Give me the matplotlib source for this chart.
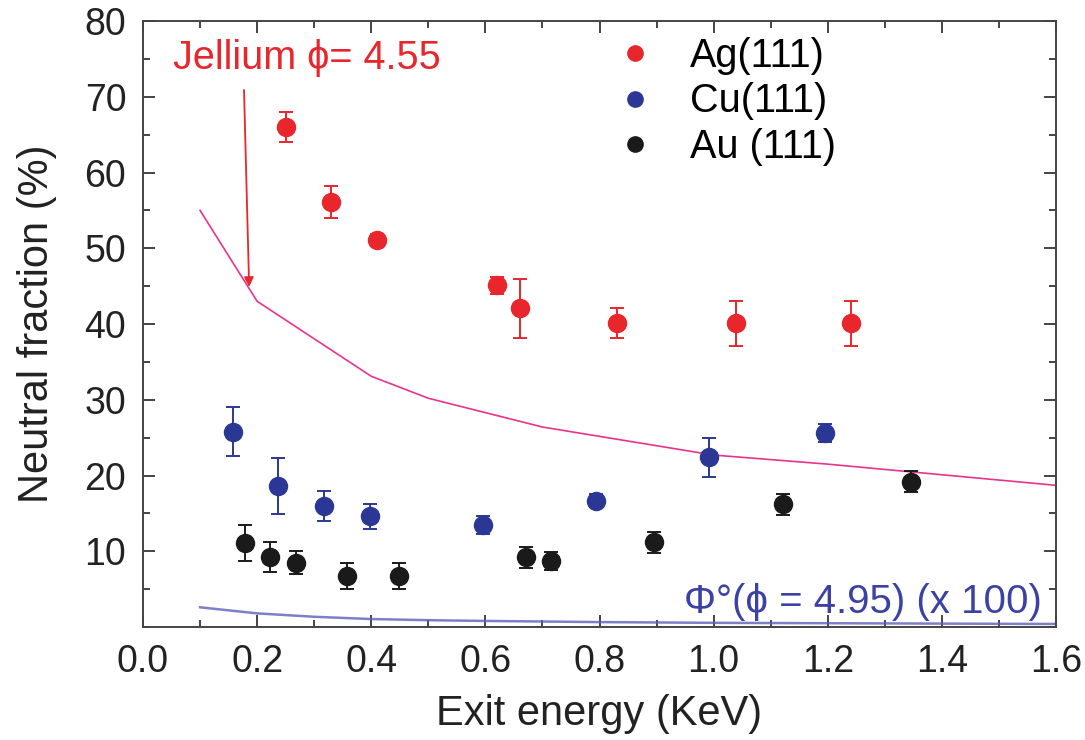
import matplotlib
matplotlib.use("Agg")
import matplotlib.pyplot as plt
from matplotlib import font_manager
from matplotlib.lines import Line2D
from matplotlib.ticker import MultipleLocator

# --------------------------------------------------------------------
# Neutral fraction vs exit energy, three (111) surfaces
ag_x = [0.25, 0.33, 0.41, 0.62, 0.66, 0.83, 1.04, 1.24]
ag_y = [66.0, 56.1, 51.1, 45.1, 42.1, 40.1, 40.1, 40.1]
ag_err = [2.0, 2.1, 0.8, 1.1, 3.9, 2.0, 3.0, 3.0]

cu_x = [0.157, 0.236, 0.317, 0.397, 0.596, 0.794, 0.991, 1.196]
cu_y = [25.8, 18.6, 16.0, 14.6, 13.5, 16.7, 22.4, 25.6]
cu_err = [3.2, 3.7, 2.0, 1.7, 1.2, 0.8, 2.6, 1.2]

au_x = [0.178, 0.222, 0.268, 0.358, 0.448, 0.672, 0.715, 0.896, 1.122, 1.345]
au_y = [11.1, 9.2, 8.5, 6.7, 6.7, 9.2, 8.7, 11.2, 16.2, 19.2]
au_err = [2.4, 2.0, 1.5, 1.7, 1.7, 1.4, 1.2, 1.4, 1.4, 1.4]

# jellium model, phi = 4.55
jel_x = [0.1, 0.2, 0.4, 0.5, 0.7, 1.0, 1.2, 1.4, 1.6]
jel_y = [55.0, 43.0, 33.1, 30.2, 26.4, 22.7, 21.5, 20.1, 18.7]

# Phi0 curve, phi = 4.95 (scaled x100)
phi_x = [0.1, 0.2, 0.3, 0.4, 0.5, 0.6, 0.8, 1.0, 1.2, 1.4, 1.6]
phi_y = [2.6, 1.8, 1.35, 1.05, 0.9, 0.8, 0.65, 0.55, 0.5, 0.45, 0.4]

legend_labels = ["Ag(111)", "Cu(111)", "Au (111)"]

RED = "#e8262c"
BLUE = "#2b3794"
BLACK = "#1a1a1a"
PINK = "#e8348c"
LAVENDER = "#5c60b8"


def pick_font(*names):
    have = {f.name for f in font_manager.fontManager.ttflist}
    for n in names:
        if n in have:
            return n
    return "DejaVu Sans"


SANS = pick_font("Liberation Sans", "Arial", "DejaVu Sans")
plt.rcParams["font.family"] = SANS

fig = plt.figure(figsize=(10.85, 7.4), dpi=100)
ax = fig.add_axes([0.1318, 0.1527, 0.8415, 0.8189])

# model curves
ax.plot(jel_x, jel_y, color=PINK, lw=1.2, zorder=2)
ax.plot(phi_x, phi_y, color=LAVENDER, lw=1.8, alpha=0.8, zorder=2)

eb_kw = dict(fmt="o", ms=13, capsize=4.7, elinewidth=1.4, capthick=1.4, zorder=3)
ax.errorbar(ag_x, ag_y, yerr=ag_err, color=RED, ecolor=RED, **eb_kw)
ax.errorbar(cu_x, cu_y, yerr=cu_err, color=BLUE, ecolor=BLUE, **eb_kw)
ax.errorbar(au_x, au_y, yerr=au_err, color=BLACK, ecolor=BLACK, **eb_kw)

ax.set_xlim(0, 1.6)
ax.set_ylim(0, 80)
ax.xaxis.set_major_locator(MultipleLocator(0.2))
ax.xaxis.set_minor_locator(MultipleLocator(0.1))
ax.yaxis.set_minor_locator(MultipleLocator(5))
ax.set_yticks(range(10, 81, 10))
ax.set_xticks([i * 0.2 for i in range(9)])
ax.set_xticklabels([f"{i * 0.2:.1f}" for i in range(9)])
ax.tick_params(which="both", direction="in", top=True, right=True,
               color="#444444", width=1.4)
ax.tick_params(which="major", length=8.5, pad=12, labelsize=27,
               labelcolor="#222222")
ax.tick_params(which="minor", length=5)
for s in ax.spines.values():
    s.set_linewidth(1.4)
    s.set_color("#444444")

ax.set_xlabel("Exit energy (KeV)", fontsize=30, color="#222222", labelpad=10)
ax.set_ylabel("Neutral fraction (%)", fontsize=30, color="#222222", labelpad=20)

# annotations
ax.text(0.0534, 73.7, "Jellium \u03d5= 4.55", fontsize=28.5, color=RED,
        ha="left", va="baseline")
ax.annotate("", xy=(0.186, 44.9), xytext=(0.177, 70.9),
            arrowprops=dict(arrowstyle="-|>", color=RED, lw=1.3,
                            mutation_scale=14, shrinkA=0, shrinkB=0))
ax.text(1.575, 1.8, "\u03a6\u00b0(\u03d5 = 4.95) (x 100)", fontsize=29,
        color="#3c41a4", ha="right", va="baseline")

handles = [Line2D([], [], ls="none", marker="o", ms=11, color=c)
           for c in (RED, BLUE, BLACK)]
ax.legend(handles, legend_labels, loc="upper left", bbox_to_anchor=(0.5, 1.0),
          frameon=False, fontsize=28.5, handletextpad=0.89, labelspacing=0.19,
          borderaxespad=0, handlelength=1.0)

fig.savefig("out.png", dpi=100)
